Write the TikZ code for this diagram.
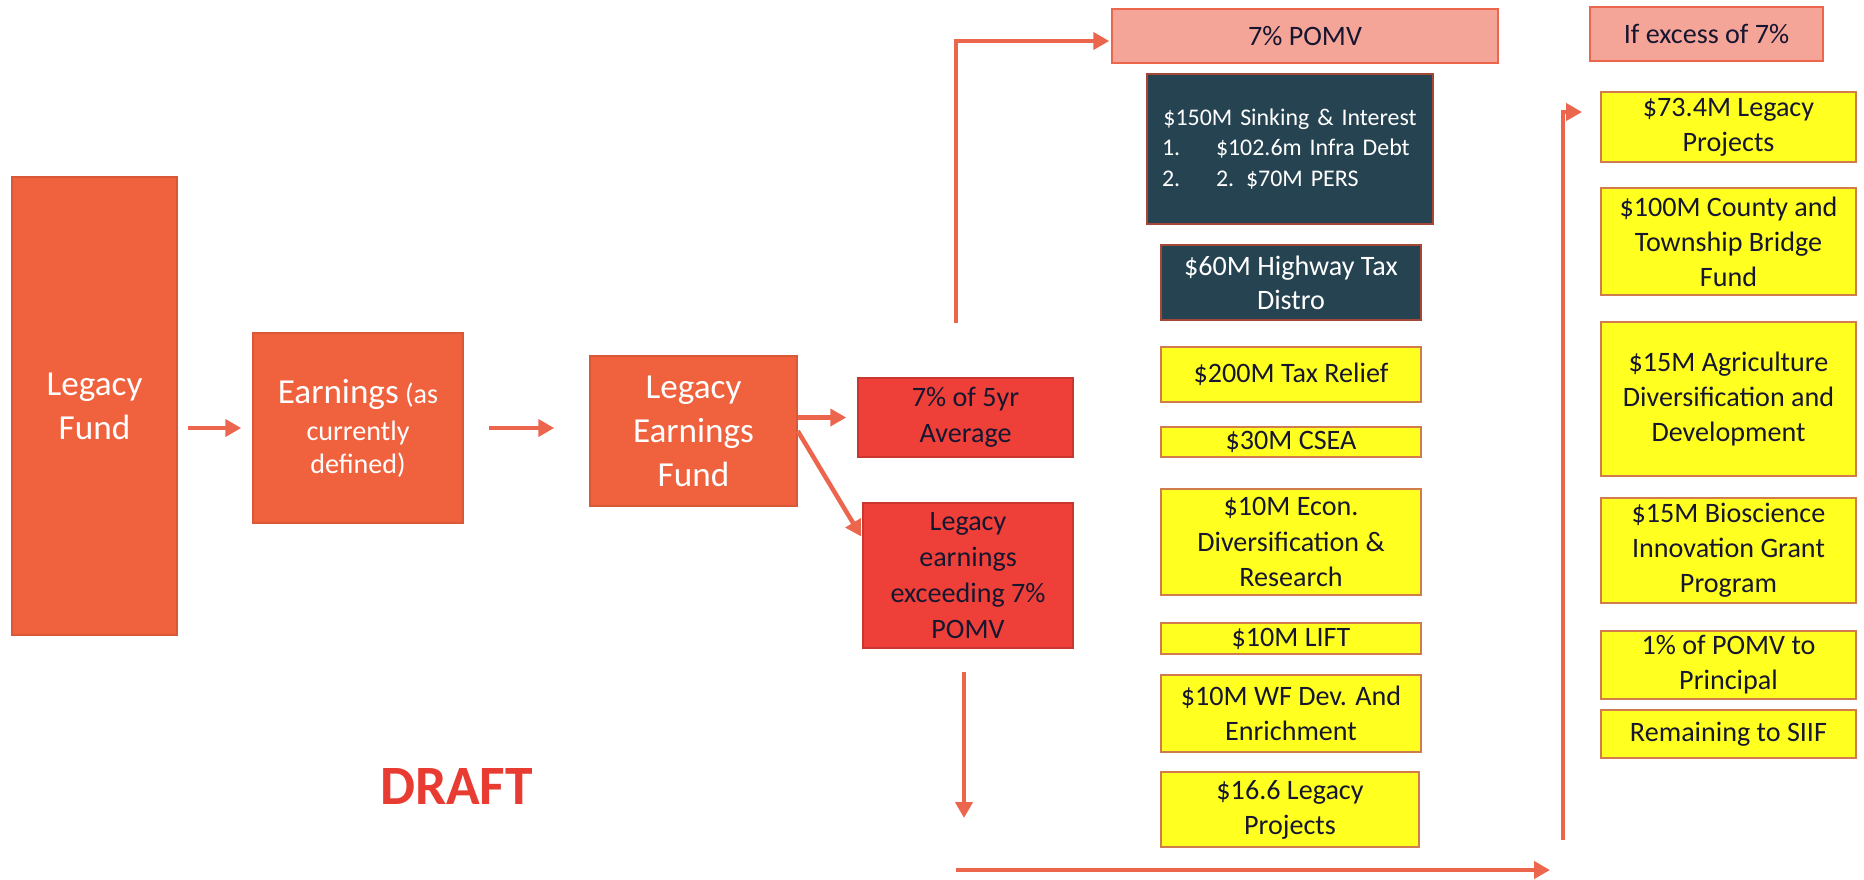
\documentclass[tikz,border=0pt]{standalone}
\usepackage{fontspec}
\setmainfont{Carlito}
\usepackage{tikz}
\usetikzlibrary{arrows.meta, positioning}

\definecolor{fundorange}{RGB}{240,98,62}
\definecolor{splitred}{RGB}{238,64,56}
\definecolor{headpink}{RGB}{245,165,152}
\definecolor{debtblue}{RGB}{38,67,82}
\definecolor{itemyellow}{RGB}{255,255,32}
\definecolor{edgebrown}{RGB}{208,124,76}
\definecolor{flowred}{RGB}{236,102,78}
\definecolor{draftred}{RGB}{232,60,50}
\definecolor{inkblue}{RGB}{22,22,48}

\begin{document}
\begin{tikzpicture}[x=0.1mm, y=-0.1mm,
            plainbox/.style={rectangle, inner sep=0pt, align=center, line width=0.15mm},
            fundnode/.style={plainbox, fill=fundorange, draw=fundorange!90!black, text=white, font=\fontsize{10}{12.5}\selectfont},
            splitnode/.style={plainbox, fill=splitred, draw=splitred!85!black, text=inkblue, font=\fontsize{8}{10.2}\selectfont},
            headnode/.style={plainbox, fill=headpink, draw=flowred, text=inkblue, font=\fontsize{8}{10}\selectfont},
            debtnode/.style={plainbox, fill=debtblue, draw=flowred!70!black, text=white, font=\fontsize{8}{9.7}\selectfont},
            itemnode/.style={plainbox, fill=itemyellow, draw=edgebrown, line width=0.2mm, text=inkblue, font=\fontsize{8}{10}\selectfont},
            flow/.style={draw=flowred, line width=0.45mm, -{Triangle[length=1.6mm, width=1.7mm]}}]
            % Slide frame
            \useasboundingbox (0,0) rectangle (1864,879);
            
            % Fund chain
            \node[fundnode, minimum width=16.5mm, minimum height=45.8mm] (LF) at (94.5,406) {Legacy\\Fund};
            \node[fundnode, minimum width=21mm, minimum height=19mm, font=\fontsize{8}{9.4}\selectfont] (EA) at (358,428) {{\fontsize{10}{12}\selectfont Earnings} (as\\[0.4mm]currently\\defined)};
            \node[fundnode, minimum width=20.7mm, minimum height=15mm] (LEF) at (693.5,431) {Legacy\\Earnings\\Fund};
            
            % Split of the earnings
            \node[splitnode, minimum width=21.5mm, minimum height=7.9mm] (AVG) at (965.5,417.5) {7\% of 5yr\\Average};
            \node[splitnode, minimum width=21mm, minimum height=14.5mm] (EXC) at (968,575.5) {Legacy\\earnings\\exceeding 7\%\\POMV};
            
            % 7% POMV column
            \node[headnode, minimum width=38.6mm, minimum height=5.4mm] (POMV) at (1305,36) {7\% POMV};
            \node[debtnode, minimum width=28.6mm, minimum height=15mm, text width=25.6mm, align=left, font=\fontsize{6.8}{8.8}\selectfont] (SINK) at (1290,149) {{\centering \$150M Sinking \& Interest\par}\makebox[5.4mm][l]{1.}\$102.6m Infra Debt\\\makebox[5.4mm][l]{2.}2. \$70M PERS};
            \node[debtnode, minimum width=26mm, minimum height=7.5mm] (HWY) at (1291,282.5) {\$60M Highway Tax\\Distro};
            \node[itemnode, minimum width=26mm, minimum height=5.5mm] (TAX) at (1291,374.5) {\$200M Tax Relief};
            \node[itemnode, minimum width=26mm, minimum height=3mm] (CSEA) at (1291,442) {\$30M CSEA};
            \node[itemnode, minimum width=26mm, minimum height=10.6mm] (ECON) at (1291,542) {\$10M Econ.\\Diversification \&\\Research};
            \node[itemnode, minimum width=26mm, minimum height=3.1mm] (LIFT) at (1291,638.5) {\$10M LIFT};
            \node[itemnode, minimum width=26mm, minimum height=7.7mm] (WF) at (1291,713.5) {\$10M WF Dev. And\\Enrichment};
            \node[itemnode, minimum width=25.8mm, minimum height=7.5mm] (L166) at (1290,809.5) {\$16.6 Legacy\\Projects};
            
            % Excess column
            \node[headnode, minimum width=23.3mm, minimum height=5.4mm] (EXS) at (1706.5,34) {If excess of 7\%};
            \node[itemnode, minimum width=25.5mm, minimum height=7mm] (L73) at (1728.5,127) {\$73.4M Legacy\\Projects};
            \node[itemnode, minimum width=25.5mm, minimum height=10.7mm] (BRIDGE) at (1728.5,241.5) {\$100M County and\\Township Bridge\\Fund};
            \node[itemnode, minimum width=25.5mm, minimum height=15.4mm] (AGRI) at (1728.5,399) {\$15M Agriculture\\Diversification and\\Development};
            \node[itemnode, minimum width=25.5mm, minimum height=10.5mm] (BIO) at (1728.5,550.5) {\$15M Bioscience\\Innovation Grant\\Program};
            \node[itemnode, minimum width=25.5mm, minimum height=6.8mm] (PRIN) at (1728.5,665) {1\% of POMV to\\Principal};
            \node[itemnode, minimum width=25.5mm, minimum height=4.8mm] (SIIF) at (1728.5,734) {Remaining to SIIF};
            
            \node[font=\bfseries\fontsize{15.8}{18}\selectfont, text=draftred, inner sep=0pt] (draft) at (456.5,786) {DRAFT};
            
            % Loose arrow ends
            \coordinate (rise7) at (956,323);
            \coordinate (dropA) at (964,672);
            \coordinate (dropB) at (964,818);
            \coordinate (baseA) at (956,870);
            \coordinate (baseB) at (1550,870);
            \coordinate (riseX) at (1563,840);
            
            \draw[flow, shorten <=1mm, shorten >=1.1mm] (LF.east |- EA.west) -- (EA.west);
            \draw[flow, shorten <=2.5mm, shorten >=3.5mm] (EA.east) -- (LEF.west |- EA.east);
            \draw[flow, shorten >=1.1mm] (AVG.west -| LEF.east) -- (AVG.west);
            \draw[flow, shorten >=0.2mm] (LEF.east) -- ([yshift=-3.6mm]EXC.north west);
            \draw[flow, shorten >=0.2mm] (rise7) |- ([yshift=-0.5mm]POMV.west);
            \draw[flow] (dropA) -- (dropB);
            \draw[flow] (baseA) -- (baseB);
            \draw[flow, shorten >=1.8mm] (riseX) |- ([yshift=1.5mm]L73.west);
        \end{tikzpicture}
\end{document}
